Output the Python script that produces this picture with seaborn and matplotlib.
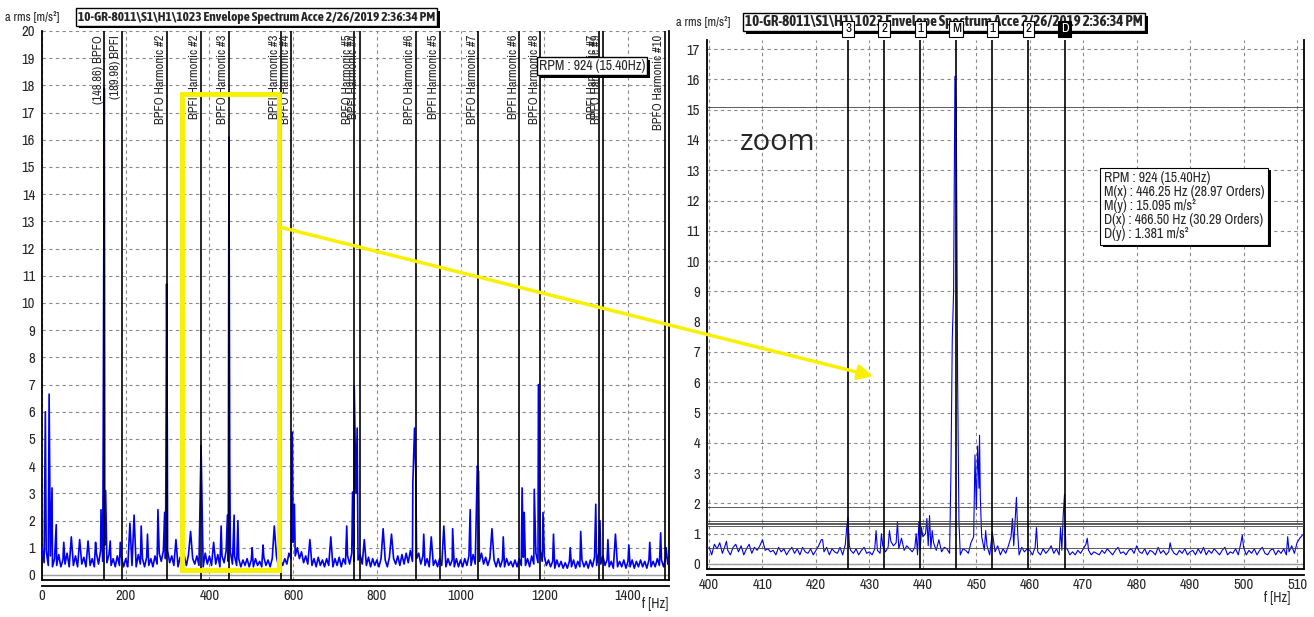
import numpy as np
import pandas as pd
import seaborn as sns
import matplotlib.pyplot as plt
import matplotlib.transforms as mtrans
import matplotlib.patheffects as pe
from matplotlib.patches import Rectangle

TITLE = "10-GR-8011\\S1\\H1\\1023 Envelope Spectrum Acce 2/26/2019 2:36:34 PM"
Y_LABEL = "a rms [m/s²]"
X_LABEL = "f [Hz]"

# left panel: full envelope spectrum, noise floor read every 5 Hz from 0 Hz
left_floor_start = 0.0
left_floor_step = 5.0
left_floor = [
    1.0, 0.45, 0.9, 0.35, 0.7, 0.3, 0.6, 0.35, 0.75, 0.3, 0.55, 0.4, 0.8, 0.3, 0.6, 0.35, 0.7, 0.3, 0.55, 0.4,
    0.65, 0.3, 0.7, 0.35, 0.6, 0.3, 0.8, 0.4, 0.9, 0.5, 1.1, 0.45, 0.75, 0.35, 0.6, 0.3, 0.7, 0.35, 0.65, 0.3,
    0.6, 0.3, 0.7, 0.35, 0.55, 0.3, 0.75, 0.4, 0.6, 0.3, 0.65, 0.35, 0.6, 0.3, 0.7, 0.4, 0.8, 0.5, 0.9, 0.6,
    0.9, 0.45, 0.7, 0.35, 0.6, 0.3, 0.65, 0.4, 0.7, 0.35, 0.75, 0.3, 0.6, 0.4, 0.7, 0.35, 0.65, 0.3, 0.8, 0.4,
    0.7, 0.35, 0.65, 0.4, 0.75, 0.3, 0.7, 0.45, 0.9, 0.5, 0.85, 0.4, 0.7, 0.35, 0.6, 0.3, 0.55, 0.35, 0.6, 0.3,
    0.55, 0.3, 0.6, 0.35, 0.5, 0.3, 0.65, 0.35, 0.55, 0.3, 0.6, 0.35, 0.7, 0.3, 0.55, 0.35, 0.6, 0.4, 0.8, 0.6,
    1.2, 0.7, 1.0, 0.6, 0.85, 0.45, 0.7, 0.4, 0.65, 0.35, 0.6, 0.3, 0.65, 0.35, 0.55, 0.3, 0.6, 0.35, 0.55, 0.3,
    0.6, 0.35, 0.65, 0.3, 0.6, 0.4, 0.7, 0.4, 0.8, 0.5, 0.9, 0.55, 0.75, 0.4, 0.6, 0.35, 0.65, 0.3, 0.6, 0.35,
    0.55, 0.3, 0.6, 0.35, 0.55, 0.3, 0.65, 0.35, 0.6, 0.4, 0.7, 0.35, 0.75, 0.4, 0.8, 0.45, 0.9, 0.5, 1.0, 0.6,
    0.8, 0.4, 0.7, 0.35, 0.6, 0.3, 0.65, 0.35, 0.55, 0.3, 0.6, 0.35, 0.65, 0.3, 0.6, 0.35, 0.55, 0.3, 0.6, 0.3,
    0.55, 0.3, 0.6, 0.35, 0.7, 0.35, 0.75, 0.4, 0.9, 0.5, 0.8, 0.4, 0.65, 0.35, 0.6, 0.3, 0.55, 0.3, 0.6, 0.3,
    0.55, 0.3, 0.6, 0.35, 0.5, 0.3, 0.55, 0.3, 0.6, 0.35, 0.65, 0.35, 0.6, 0.3, 0.7, 0.4, 0.8, 0.45, 0.9, 0.5,
    0.7, 0.35, 0.55, 0.3, 0.5, 0.25, 0.55, 0.3, 0.5, 0.25, 0.45, 0.25, 0.5, 0.3, 0.55, 0.25, 0.5, 0.3, 0.55, 0.3,
    0.5, 0.25, 0.55, 0.3, 0.65, 0.35, 0.8, 0.4, 0.7, 0.35, 0.55, 0.3, 0.5, 0.25, 0.55, 0.3, 0.5, 0.3, 0.55, 0.25,
    0.5, 0.3, 0.55, 0.25, 0.5, 0.3, 0.55, 0.3, 0.5, 0.25, 0.55, 0.3, 0.5, 0.3, 0.6, 0.35, 0.55, 0.3, 0.65, 0.4,
]
left_peak_freq = [
    8, 17, 24, 34, 52, 70, 90, 110, 128, 141, 146, 148.86, 152, 163, 187, 210, 220, 237, 252, 277,
    293, 296, 297.7, 299.5, 320, 355, 380, 410, 428, 443, 446.6, 448.5, 459, 468, 502, 528, 555, 598, 603, 640,
    690, 728, 742, 746, 750, 753, 770, 815, 835, 886, 890, 893, 912, 930, 960, 981, 1023, 1040, 1043, 1075,
    1102, 1147, 1152, 1176, 1186, 1197, 1222, 1262, 1287, 1323, 1333, 1352, 1370, 1402, 1452, 1478, 1491,
]
left_peak_amp = [
    6.0, 6.65, 3.2, 1.85, 1.2, 1.4, 1.3, 1.25, 1.2, 2.4, 4.05, 17.9, 3.1, 1.25, 1.2, 1.9, 2.2, 1.8, 1.5, 2.4,
    2.3, 3.65, 10.7, 4.7, 1.3, 1.6, 4.75, 1.2, 1.8, 2.2, 16.1, 4.25, 2.2, 2.0, 1.0, 1.1, 1.8, 5.25, 2.6, 1.3,
    1.4, 1.8, 3.05, 6.95, 3.0, 5.4, 1.3, 1.7, 1.5, 3.4, 5.4, 3.8, 1.5, 1.4, 1.8, 1.7, 2.4, 4.0, 3.8, 1.7,
    1.4, 3.2, 2.3, 3.15, 7.0, 2.3, 1.5, 1.0, 1.6, 2.6, 2.0, 1.3, 1.5, 1.1, 1.2, 1.55, 1.0,
]

# bearing fault frequency cursors on the left panel
marker_freq = [148.86, 189.98, 297.7, 379.96, 446.6, 569.9, 595.4, 744.3, 759.9,
               893.2, 949.9, 1042.0, 1139.9, 1190.9, 1329.9, 1339.7, 1488.6]
marker_label = ["(148.86) BPFO", "(189.98) BPFI", "BPFO Harmonic #2", "BPFI Harmonic #2",
                "BPFO Harmonic #3", "BPFI Harmonic #3", "BPFO Harmonic #4", "BPFO Harmonic #5",
                "BPFI Harmonic #4", "BPFO Harmonic #6", "BPFI Harmonic #5", "BPFO Harmonic #7",
                "BPFI Harmonic #6", "BPFO Harmonic #8", "BPFI Harmonic #7", "BPFO Harmonic #9",
                "BPFO Harmonic #10"]

# right panel: zoom 400-511 Hz, noise floor read every 0.5 Hz
right_floor_start = 400.0
right_floor_step = 0.5
right_floor = [
    0.55, 0.3, 0.65, 0.5, 0.7, 0.35, 0.6, 0.45, 0.3, 0.55, 0.65, 0.4, 0.6, 0.3, 0.5, 0.65, 0.35, 0.55, 0.45, 0.6,
    0.8, 0.45, 0.5, 0.4, 0.45, 0.3, 0.55, 0.4, 0.5, 0.3, 0.45, 0.55, 0.35, 0.5, 0.3, 0.55, 0.4, 0.35, 0.5, 0.3,
    0.45, 0.6, 0.8, 0.4, 0.55, 0.3, 0.5, 0.4, 0.35, 0.55, 0.3, 0.65, 0.5, 0.45, 0.35, 0.5, 0.3, 0.45, 0.55, 0.35,
    0.4, 0.3, 0.5, 0.45, 0.35, 0.6, 0.4, 0.55, 0.75, 0.6, 0.7, 0.5, 0.85, 0.45, 0.6, 0.5, 0.4, 0.55, 0.3, 0.45,
    0.9, 1.0, 0.6, 0.5, 0.7, 0.45, 0.8, 0.4, 0.55, 0.5, 0.35, 0.6, 0.4, 0.5, 0.3, 0.5, 0.45, 0.35, 0.7, 0.9,
    1.8, 2.5, 0.9, 0.45, 0.6, 0.3, 0.5, 0.4, 0.6, 0.3, 0.5, 0.35, 0.6, 0.9, 0.6, 0.45, 0.3, 0.55, 0.4, 0.5,
    0.45, 0.3, 0.55, 0.4, 0.3, 0.5, 0.35, 0.45, 0.6, 0.35, 0.5, 0.3, 0.45, 0.35, 0.5, 0.3, 0.4, 0.3, 0.45, 0.35,
    0.5, 0.65, 0.45, 0.3, 0.4, 0.35, 0.3, 0.45, 0.35, 0.5, 0.4, 0.3, 0.45, 0.55, 0.35, 0.4, 0.3, 0.45, 0.5, 0.35,
    0.6, 0.4, 0.35, 0.5, 0.3, 0.45, 0.4, 0.3, 0.55, 0.35, 0.45, 0.3, 0.4, 0.5, 0.35, 0.3, 0.45, 0.35, 0.5, 0.3,
    0.4, 0.45, 0.3, 0.5, 0.35, 0.55, 0.3, 0.45, 0.35, 0.5, 0.4, 0.3, 0.45, 0.55, 0.3, 0.4, 0.35, 0.5, 0.3, 0.7,
    0.55, 0.3, 0.45, 0.35, 0.5, 0.3, 0.45, 0.55, 0.35, 0.3, 0.45, 0.5, 0.3, 0.45, 0.35, 0.5, 0.3, 0.4, 0.6, 0.35,
    0.7, 0.85, 0.95,
]
right_peak_freq = [
    403.25, 421.25, 425.75, 426.0, 426.25, 431.25, 432.25, 433.75, 435.25, 438.75, 439.25, 439.75,
    440.75, 441.25, 441.75, 445.25, 445.5, 445.75, 446.0, 446.25, 446.5, 446.75, 449.75, 450.25,
    450.6, 450.75, 451.75, 453.0, 456.75, 457.25, 457.5, 457.75, 461.25, 465.75, 466.25, 466.5,
    466.75, 470.75, 486.25, 499.75, 508.25,
]
right_peak_amp = [
    0.75, 0.8, 1.2, 1.55, 0.6, 1.1, 1.0, 1.1, 1.4, 1.0, 1.4, 1.2,
    1.5, 1.6, 1.1, 3.0, 7.4, 9.0, 16.1, 15.1, 6.1, 1.4, 3.6, 3.9,
    4.25, 2.2, 1.1, 1.05, 1.5, 1.4, 2.2, 1.0, 1.2, 1.2, 1.6, 2.3,
    0.5, 0.85, 0.7, 0.95, 0.9,
]

cursor_freq = [426.0, 432.75, 439.5, 446.25, 453.0, 459.75, 466.5]
cursor_label = ["3", "2", "1", "M", "1", "2", "D"]
cursor_levels = [15.095, 1.87, 1.42, 1.36, 1.31, 1.25, 0.52]

rpm_text = "RPM : 924 (15.40Hz)"
info_lines = ["RPM : 924 (15.40Hz)", "M(x) : 446.25 Hz (28.97 Orders)", "M(y) : 15.095 m/s²",
              "D(x) : 466.50 Hz (30.29 Orders)", "D(y) : 1.381 m/s²"]

zoom_box_f = [334, 566]
zoom_box_a = [0.2, 17.7]

NARROW = ["Archivo Narrow", "Liberation Sans", "DejaVu Sans"]
NARROW_BOLD = ["Asap Condensed", "Liberation Sans", "DejaVu Sans"]


def spectrum_frame(start, step, floor, peak_f, peak_a):
    floor_df = pd.DataFrame({"f": start + step * np.arange(len(floor)), "a": floor})
    peak_df = pd.DataFrame({"f": peak_f, "a": peak_a})
    df = pd.concat([floor_df, peak_df]).round({"f": 3})
    return df.drop_duplicates("f", keep="last").sort_values("f")


def style_axes(ax, xlim, ylim, xticks, yticks, outward):
    ax.set_xlim(*xlim)
    ax.set_ylim(*ylim)
    ax.set_xticks(xticks)
    ax.set_yticks(yticks)
    ax.grid(True, ls=(0, (3, 3)), color="#8a8a8a", lw=0.8)
    ax.set_axisbelow(True)
    ax.spines["top"].set_visible(False)
    ax.spines["bottom"].set_position(("outward", outward))
    for s in ["left", "right", "bottom"]:
        ax.spines[s].set_color("black")
        ax.spines[s].set_linewidth(1.3)
    ax.axhline(ylim[0], color="black", lw=1.3, clip_on=False, zorder=4)
    ax.axhline(0.0, color="#a0a0a0", lw=1.0, zorder=2)
    ax.tick_params(direction="out", length=4, width=1, color="black", labelsize=10.5, pad=1)
    ax.tick_params(axis="x", direction="in", pad=2)
    ax.set_xlabel("")
    ax.set_ylabel("")


sns.set_theme(style="white")
plt.rcParams["font.family"] = NARROW

fig = plt.figure(figsize=(13.14, 6.17), dpi=100)
W, H = 1314, 617

# ---- left panel ----
ax_l = fig.add_axes([42 / W, 1 - 580.4 / H, 626.6 / W, 549.4 / H])
left_df = spectrum_frame(left_floor_start, left_floor_step, left_floor, left_peak_freq, left_peak_amp)
sns.lineplot(data=left_df, x="f", y="a", ax=ax_l, color="#0000f0", lw=1.2,
             estimator=None, sort=False, zorder=3)
style_axes(ax_l, (0, 1497), (-0.2, 20.0), range(0, 1401, 200), range(0, 21), 4)

lbl_tr = mtrans.blended_transform_factory(ax_l.transData, ax_l.transAxes)
for f, lab in zip(marker_freq, marker_label):
    ax_l.axvline(f, color="black", lw=1.2, zorder=4)
    ax_l.text(f - 1.5, 0.993, lab, transform=lbl_tr, rotation=90, ha="right", va="top",
              fontsize=9, zorder=5)

ax_l.add_patch(Rectangle((zoom_box_f[0], zoom_box_a[0]), zoom_box_f[1] - zoom_box_f[0],
                         zoom_box_a[1] - zoom_box_a[0], fill=False, edgecolor="#f7f000",
                         lw=3.5, zorder=6))

# ---- right panel ----
ax_r = fig.add_axes([706.9 / W, 1 - 568.5 / H, 597.1 / W, 528.5 / H])
right_df = spectrum_frame(right_floor_start, right_floor_step, right_floor, right_peak_freq, right_peak_amp)
sns.lineplot(data=right_df, x="f", y="a", ax=ax_r, color="#0000f0", lw=0.8,
             estimator=None, sort=False, zorder=3)
style_axes(ax_r, (399.6, 511.3), (-0.15, 17.3), range(400, 511, 10), range(0, 18), 5)

for lev in cursor_levels:
    ax_r.axhline(lev, color="#404040", lw=0.6, zorder=4)
for f in cursor_freq:
    ax_r.axvline(f, color="black", lw=1.2, zorder=4)

info = ax_r.text(0.665, 0.752, "\n".join(info_lines), transform=ax_r.transAxes, fontsize=10,
                 ha="left", va="top", linespacing=1.0, zorder=8,
                 bbox=dict(boxstyle="square,pad=0.25", facecolor="white", edgecolor="black", lw=0.8))
info.get_bbox_patch().set_path_effects([pe.withSimplePatchShadow(offset=(2, -2), shadow_rgbFace="black", alpha=1)])

ax_r.text(0.055, 0.807, "zoom", transform=ax_r.transAxes, fontsize=21, family=["Open Sans", "DejaVu Sans"],
          ha="left", va="center", zorder=8)

# yellow arrow from the zoom box to the zoomed panel
ax_r.annotate("", xy=(430.7, 6.2), xycoords=ax_r.transData,
              xytext=(566, 12.8), textcoords=ax_l.transData,
              arrowprops=dict(arrowstyle="-|>", color="#f7f000", lw=2.5, mutation_scale=22,
                              shrinkA=0, shrinkB=0), zorder=9)

# ---- header texts ----
for x0, y0, fs, tx, ty in [(78, 17, 9.7, 5, 17), (745, 22, 10.8, 676, 22)]:
    t = fig.text(x0 / W, 1 - y0 / H, TITLE, fontsize=fs, fontweight="bold", family=NARROW_BOLD,
                 ha="left", va="center",
                 bbox=dict(boxstyle="square,pad=0.15", facecolor="white", edgecolor="black", lw=1))
    t.get_bbox_patch().set_path_effects([pe.withSimplePatchShadow(offset=(2, -2), shadow_rgbFace="black", alpha=1)])
    fig.text(tx / W, 1 - ty / H, Y_LABEL, fontsize=9, ha="left", va="center")

# cursor tags sit on top of the right title box
cur_tr = mtrans.blended_transform_factory(ax_r.transData, fig.transFigure)
for f, lab in zip(cursor_freq, cursor_label):
    dark = lab == "D"
    fig.text(f, 1 - 29 / H, lab, transform=cur_tr, ha="center", va="center", fontsize=9.5,
             color="white" if dark else "black",
             bbox=dict(boxstyle="square,pad=0.2", facecolor="black" if dark else "white",
                       edgecolor="black", lw=0.8))

rpm = fig.text(539 / W, 1 - 66 / H, rpm_text, fontsize=10, ha="left", va="center",
               bbox=dict(boxstyle="square,pad=0.15", facecolor="white", edgecolor="black", lw=1))
rpm.get_bbox_patch().set_path_effects([pe.withSimplePatchShadow(offset=(2, -2), shadow_rgbFace="black", alpha=1)])

fig.text(668 / W, 1 - 604 / H, X_LABEL, fontsize=10, ha="right", va="center")
fig.text(1290 / W, 1 - 598 / H, X_LABEL, fontsize=10, ha="right", va="center")

fig.savefig("out.png", dpi=100, facecolor="white")
